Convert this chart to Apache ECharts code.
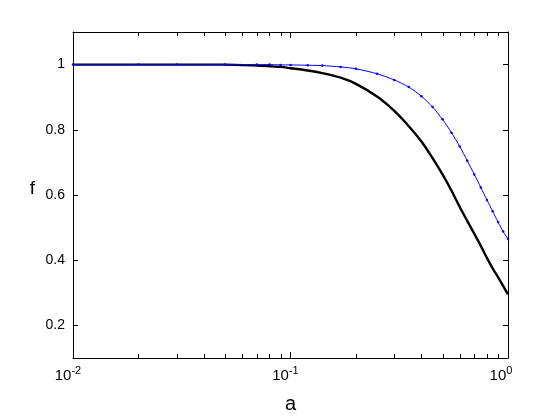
<!DOCTYPE html>
<html>
<head>
<meta charset="utf-8">
<script src="https://cdn.jsdelivr.net/npm/echarts@6/dist/echarts.min.js"></script>
<style>
  html, body { margin: 0; padding: 0; background: #fff; }
  #main { width: 560px; height: 420px; }
</style>
</head>
<body>
<div id="main"></div>
<script>
// values
var aValues = [0.01, 0.02, 0.03, 0.05, 0.07, 0.08, 0.09, 0.1, 0.12, 0.14, 0.17, 0.2, 0.25, 0.3, 0.35,
               0.4, 0.45, 0.5, 0.55, 0.6, 0.65, 0.7, 0.75, 0.8, 0.85, 0.9, 0.95, 1.0];
var fBlack = [1.0, 1.0, 1.0, 1.0, 0.997, 0.995, 0.993, 0.989, 0.982, 0.974, 0.960, 0.941, 0.902, 0.858, 0.811,
              0.764, 0.713, 0.663, 0.613, 0.563, 0.520, 0.481, 0.444, 0.407, 0.375, 0.348, 0.321, 0.295];
var fBlue = [1.0, 1.0, 1.0, 1.0, 1.0, 1.0, 0.999, 0.999, 0.998, 0.997, 0.993, 0.987, 0.972, 0.953, 0.931,
             0.903, 0.870, 0.832, 0.791, 0.749, 0.705, 0.663, 0.623, 0.585, 0.550, 0.517, 0.488, 0.465];
var yTicks = [0.2, 0.4, 0.6, 0.8, 1];
var xMinorTicks = [0.02, 0.03, 0.04, 0.05, 0.06, 0.07, 0.08, 0.09, 0.2, 0.3, 0.4, 0.5, 0.6, 0.7, 0.8, 0.9];

function pairs(xs, ys) {
  return xs.map(function (x, i) { return [x, ys[i]]; });
}

var font = 'Liberation Sans, Arial, Helvetica, sans-serif';
var chart = echarts.init(document.getElementById('main'), null, { renderer: 'canvas' });

var boxLine = { show: true, lineStyle: { color: '#000', width: 1 } };

var option = {
  backgroundColor: '#fff',
  animation: false,
  grid: { left: 73, right: 52, top: 32, bottom: 62 },
  xAxis: [
    {
      type: 'log', logBase: 10, min: 0.01, max: 1, position: 'bottom',
      axisLine: boxLine,
      axisTick: { show: true, inside: true, length: 6, lineStyle: { color: '#000' } },
      splitLine: { show: false },
      minorTick: { show: false },
      axisLabel: {
        margin: 7, showMinLabel: true, showMaxLabel: true,
        formatter: function (v) {
          var e = Math.round(Math.log10(v));
          return '{b|10}{s|' + e + '}' + (e === 0 ? '{q2| }' : '{q1| }');
        },
        rich: {
          b: { fontFamily: font, fontSize: 15, color: '#000', lineHeight: 22 },
          s: { fontFamily: font, fontSize: 11, color: '#000', lineHeight: 10, verticalAlign: 'top' },
          q1: { width: 10, fontSize: 10 },
          q2: { width: 14, fontSize: 10 }
        }
      },
      name: 'a', nameLocation: 'middle', nameGap: 36,
      nameTextStyle: { fontFamily: font, fontSize: 20, color: '#000' }
    },
    {
      type: 'log', logBase: 10, min: 0.01, max: 1, position: 'top',
      axisLine: boxLine,
      axisTick: { show: true, inside: true, length: 6, lineStyle: { color: '#000' } },
      axisLabel: { show: false },
      splitLine: { show: false }
    }
  ],
  yAxis: [
    {
      type: 'value', min: 0.1, max: 1.1, position: 'left',
      axisLine: boxLine,
      axisTick: { show: true, inside: true, length: 5, customValues: yTicks, lineStyle: { color: '#000' } },
      axisLabel: { margin: 8, customValues: yTicks, fontFamily: font, fontSize: 14, color: '#000' },
      splitLine: { show: false },
      name: 'f', nameLocation: 'middle', nameRotate: 0, nameGap: 38,
      nameTextStyle: { fontFamily: font, fontSize: 19, color: '#000', lineHeight: 12, verticalAlign: 'bottom' }
    },
    {
      type: 'value', min: 0.1, max: 1.1, position: 'right',
      axisLine: boxLine,
      axisTick: { show: true, inside: true, length: 5, customValues: yTicks, lineStyle: { color: '#000' } },
      axisLabel: { show: false },
      splitLine: { show: false }
    }
  ],
  series: [
    {
      name: 'black', type: 'line', data: pairs(aValues, fBlack),
      showSymbol: false, smooth: 0.25,
      lineStyle: { color: '#000', width: 2.4 },
      itemStyle: { color: '#000' }, z: 3
    },
    {
      name: 'blue', type: 'line', data: pairs(aValues, fBlue),
      showSymbol: true, symbol: 'circle', symbolSize: 2.5,
      smooth: 0.25,
      lineStyle: { color: '#0000ff', width: 1 },
      itemStyle: { color: '#0000ff' }, z: 4
    },
    {
      // minor log ticks on bottom and top edges
      type: 'custom', silent: true, z: 5,
      data: xMinorTicks.map(function (v) { return [v, 0.1]; }),
      renderItem: function (params, api) {
        var p = api.coord([api.value(0), api.value(1)]);
        var cs = params.coordSys;
        var x = Math.round(p[0]) + 0.5;
        var yb = cs.y + cs.height, yt = cs.y;
        return {
          type: 'group',
          children: [
            { type: 'line', shape: { x1: x, y1: yb, x2: x, y2: yb - 4 }, style: { stroke: '#000', lineWidth: 1 } },
            { type: 'line', shape: { x1: x, y1: yt, x2: x, y2: yt + 4 }, style: { stroke: '#000', lineWidth: 1 } }
          ]
        };
      }
    }
  ]
};

chart.setOption(option);
</script>
</body>
</html>
